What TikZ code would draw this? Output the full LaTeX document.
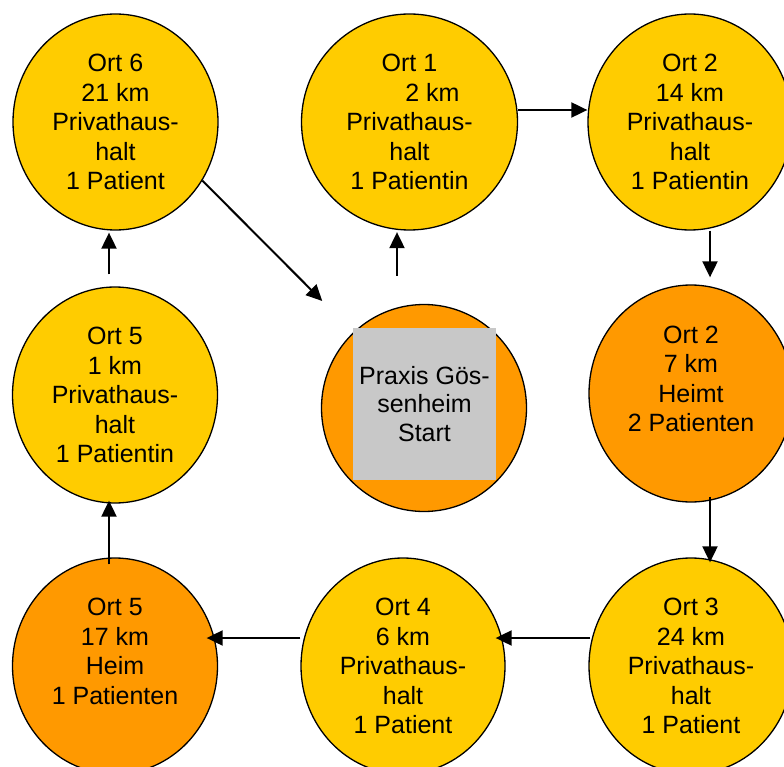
\documentclass[tikz,border=0pt]{standalone}
\usepackage{fontspec}
\setmainfont{Liberation Sans}
\usetikzlibrary{shapes.geometric,arrows.meta}
\definecolor{ortyellow}{HTML}{FFCC00}
\definecolor{ortorange}{HTML}{FF9900}
\definecolor{startgray}{HTML}{C8C8C8}
\tikzset{
  ort/.style={ellipse, draw=black, line width=1.3pt, inner sep=0pt, align=center,
    font=\fontsize{25}{29.5}\selectfont, minimum width=204pt, minimum height=216pt},
  yel/.style={ort, fill=ortyellow},
  ora/.style={ort, fill=ortorange},
  startbox/.style={fill=startgray, inner sep=0pt, minimum width=143pt, minimum height=152pt,
    align=center, font=\fontsize{25}{28.5}\selectfont},
  arr/.style={line width=2pt, -{Triangle[length=16pt,width=15pt]}}
}
\begin{document}
\begin{tikzpicture}[x=1pt,y=-1pt]
\clip (0,0) rectangle (784,767);
\fill[white] (0,0) rectangle (784,767);
% top row
\node[yel, minimum width=205pt] (o6) at (115.5,122) {Ort 6\\21 km\\Privathaus-\\halt\\1 Patient};
\node[yel, minimum width=216pt] (o1) at (409.5,122) {Ort 1\\\hspace*{46pt}2 km\\Privathaus-\\halt\\1 Patientin};
\node[yel] (o2) at (690,122) {Ort 2\\14 km\\Privathaus-\\halt\\1 Patientin};
% middle row
\node[yel, minimum width=205pt] (o5m) at (115,395) {Ort 5\\1 km\\Privathaus-\\halt\\1 Patientin};
\node[ora, minimum width=205pt, minimum height=207pt] (p) at (424,408) {};
\node[startbox] (pt) at (424.5,404) {Praxis Gös-\\senheim\\Start};
\node[ora, minimum height=217pt] (o2m) at (691,393.5) {Ort 2\\7 km\\Heimt\\2 Patienten\\\mbox{}};
% bottom row
\node[ora, minimum width=205pt] (o5b) at (115,666) {Ort 5\\17 km\\Heim\\1 Patienten\\\mbox{}};
\node[yel] (o4) at (403,666) {Ort 4\\6 km\\Privathaus-\\halt\\1 Patient};
\node[yel] (o3) at (691,666) {Ort 3\\24 km\\Privathaus-\\halt\\1 Patient};
% connectors
\draw[arr] (o1.east |- 0,110) -- (o2.west |- 0,110);
\draw[arr, shorten >=7pt] (o2.south -| 710,0) -- (o2m.north -| 710,0);
\draw[arr, shorten <=-6pt, shorten >=-5pt] (o2m.south -| 710,0) -- (o3.north -| 710,0);
\draw[arr, shorten <=-2pt, shorten >=-10pt] (o3.west |- 0,638) -- (o4.east |- 0,638);
\draw[arr, shorten <=0pt, shorten >=-11.5pt] (o4.west |- 0,638) -- (o5b.east |- 0,638);
\draw[arr, shorten <=-7pt, shorten >=-3pt] (o5b.north -| 109,0) -- (o5m.south -| 109,0);
\draw[arr, shorten <=12pt, shorten >=2pt] (o5m.north -| 109,0) -- (o6.south -| 109,0);
\draw[arr, shorten >=44pt] (o6.-34) -- (p.133);
\draw[arr, shorten <=28pt, shorten >=1.5pt] (p.north -| 397,0) -- (o1.south -| 397,0);
\end{tikzpicture}
\end{document}
